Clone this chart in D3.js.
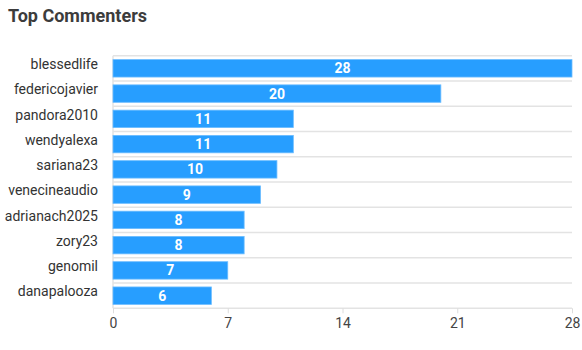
<!DOCTYPE html>
<html lang="en">
<head>
<meta charset="UTF-8">
<title>Top Commenters</title>
<script src="https://cdn.jsdelivr.net/npm/d3@7"></script>
<style>
   body { margin: 0; background: #fff; }
   text { font-family: Roboto, sans-serif; }
</style>
</head>
<body>
<svg id="chart" width="582" height="350"></svg>
<script>
   const users = ['blessedlife', 'federicojavier', 'pandora2010', 'wendyalexa', 'sariana23',
      'venecineaudio', 'adrianach2025', 'zory23', 'genomil', 'danapalooza']
   const comments = [28, 20, 11, 11, 10, 9, 8, 8, 7, 6]
   const xTicks = [0, 7, 14, 21, 28]

   const svg = d3.select('#chart')
   const padding = { top: 55.7, right: 10, bottom: 41.7, left: 113 }
   const WIDTH = 582 - padding.left - padding.right
   const HEIGHT = 350 - padding.top - padding.bottom

   svg.append('text')
      .attr('x', 8).attr('y', 22)
      .attr('font-size', 18).attr('font-weight', 'bold')
      .attr('fill', '#3c3c3c')
      .text('Top Commenters')

   const xScale = d3.scaleLinear().domain([0, 28]).range([0, WIDTH])
   const yScale = d3.scaleBand().domain(users).range([0, HEIGHT]).paddingInner(0).paddingOuter(0)

   const chart = svg.append('g')
      .attr('transform', `translate(${padding.left}, ${padding.top})`)

   // horizontal gridlines at band edges
   const edges = users.map(u => yScale(u)).concat([HEIGHT])
   chart.selectAll('line.grid')
      .data(edges)
      .enter()
      .append('line')
      .attr('class', 'grid')
      .attr('x1', 0).attr('x2', WIDTH)
      .attr('y1', d => d).attr('y2', d => d)
      .attr('stroke', '#e3e3e3').attr('stroke-width', 1.5)

   // left baseline
   chart.append('line')
      .attr('x1', 0).attr('x2', 0).attr('y1', 0).attr('y2', HEIGHT)
      .attr('stroke', '#e3e3e3').attr('stroke-width', 1.5)

   const barH = yScale.bandwidth() * 0.69
   const offset = (yScale.bandwidth() - barH) / 2

   chart.selectAll('rect')
      .data(comments)
      .enter()
      .append('rect')
      .attr('x', 0)
      .attr('y', (d, i) => yScale(users[i]) + offset)
      .attr('width', d => xScale(d))
      .attr('height', barH)
      .attr('fill', '#279eff')
      .attr('stroke', '#6bbcff').attr('stroke-width', 0.8)

   chart.selectAll('text.val')
      .data(comments)
      .enter()
      .append('text')
      .attr('class', 'val')
      .attr('x', d => xScale(d) / 2)
      .attr('y', (d, i) => yScale(users[i]) + yScale.bandwidth() / 2 + 5)
      .attr('text-anchor', 'middle')
      .attr('font-size', 14).attr('font-weight', 'bold')
      .attr('fill', '#fff')
      .text(d => d)

   // axes
   const xAxis = d3.axisBottom(xScale).tickValues(xTicks).tickSize(5).tickPadding(5)
   const gx = chart.append('g')
      .attr('transform', `translate(0, ${HEIGHT})`)
      .call(xAxis)
   gx.select('.domain').remove()
   gx.selectAll('line').attr('stroke', '#dcdcdc')
   gx.selectAll('text').attr('font-size', 14).attr('fill', '#444').attr('font-family', 'Roboto, sans-serif')

   const yAxis = d3.axisLeft(yScale).tickSize(0).tickPadding(15)
   const gy = chart.append('g').call(yAxis)
   gy.select('.domain').remove()
   gy.selectAll('text').attr('font-size', 14).attr('fill', '#333').attr('font-family', 'Roboto, sans-serif')
      .attr('dy', '0.05em')
</script>
</body>
</html>
